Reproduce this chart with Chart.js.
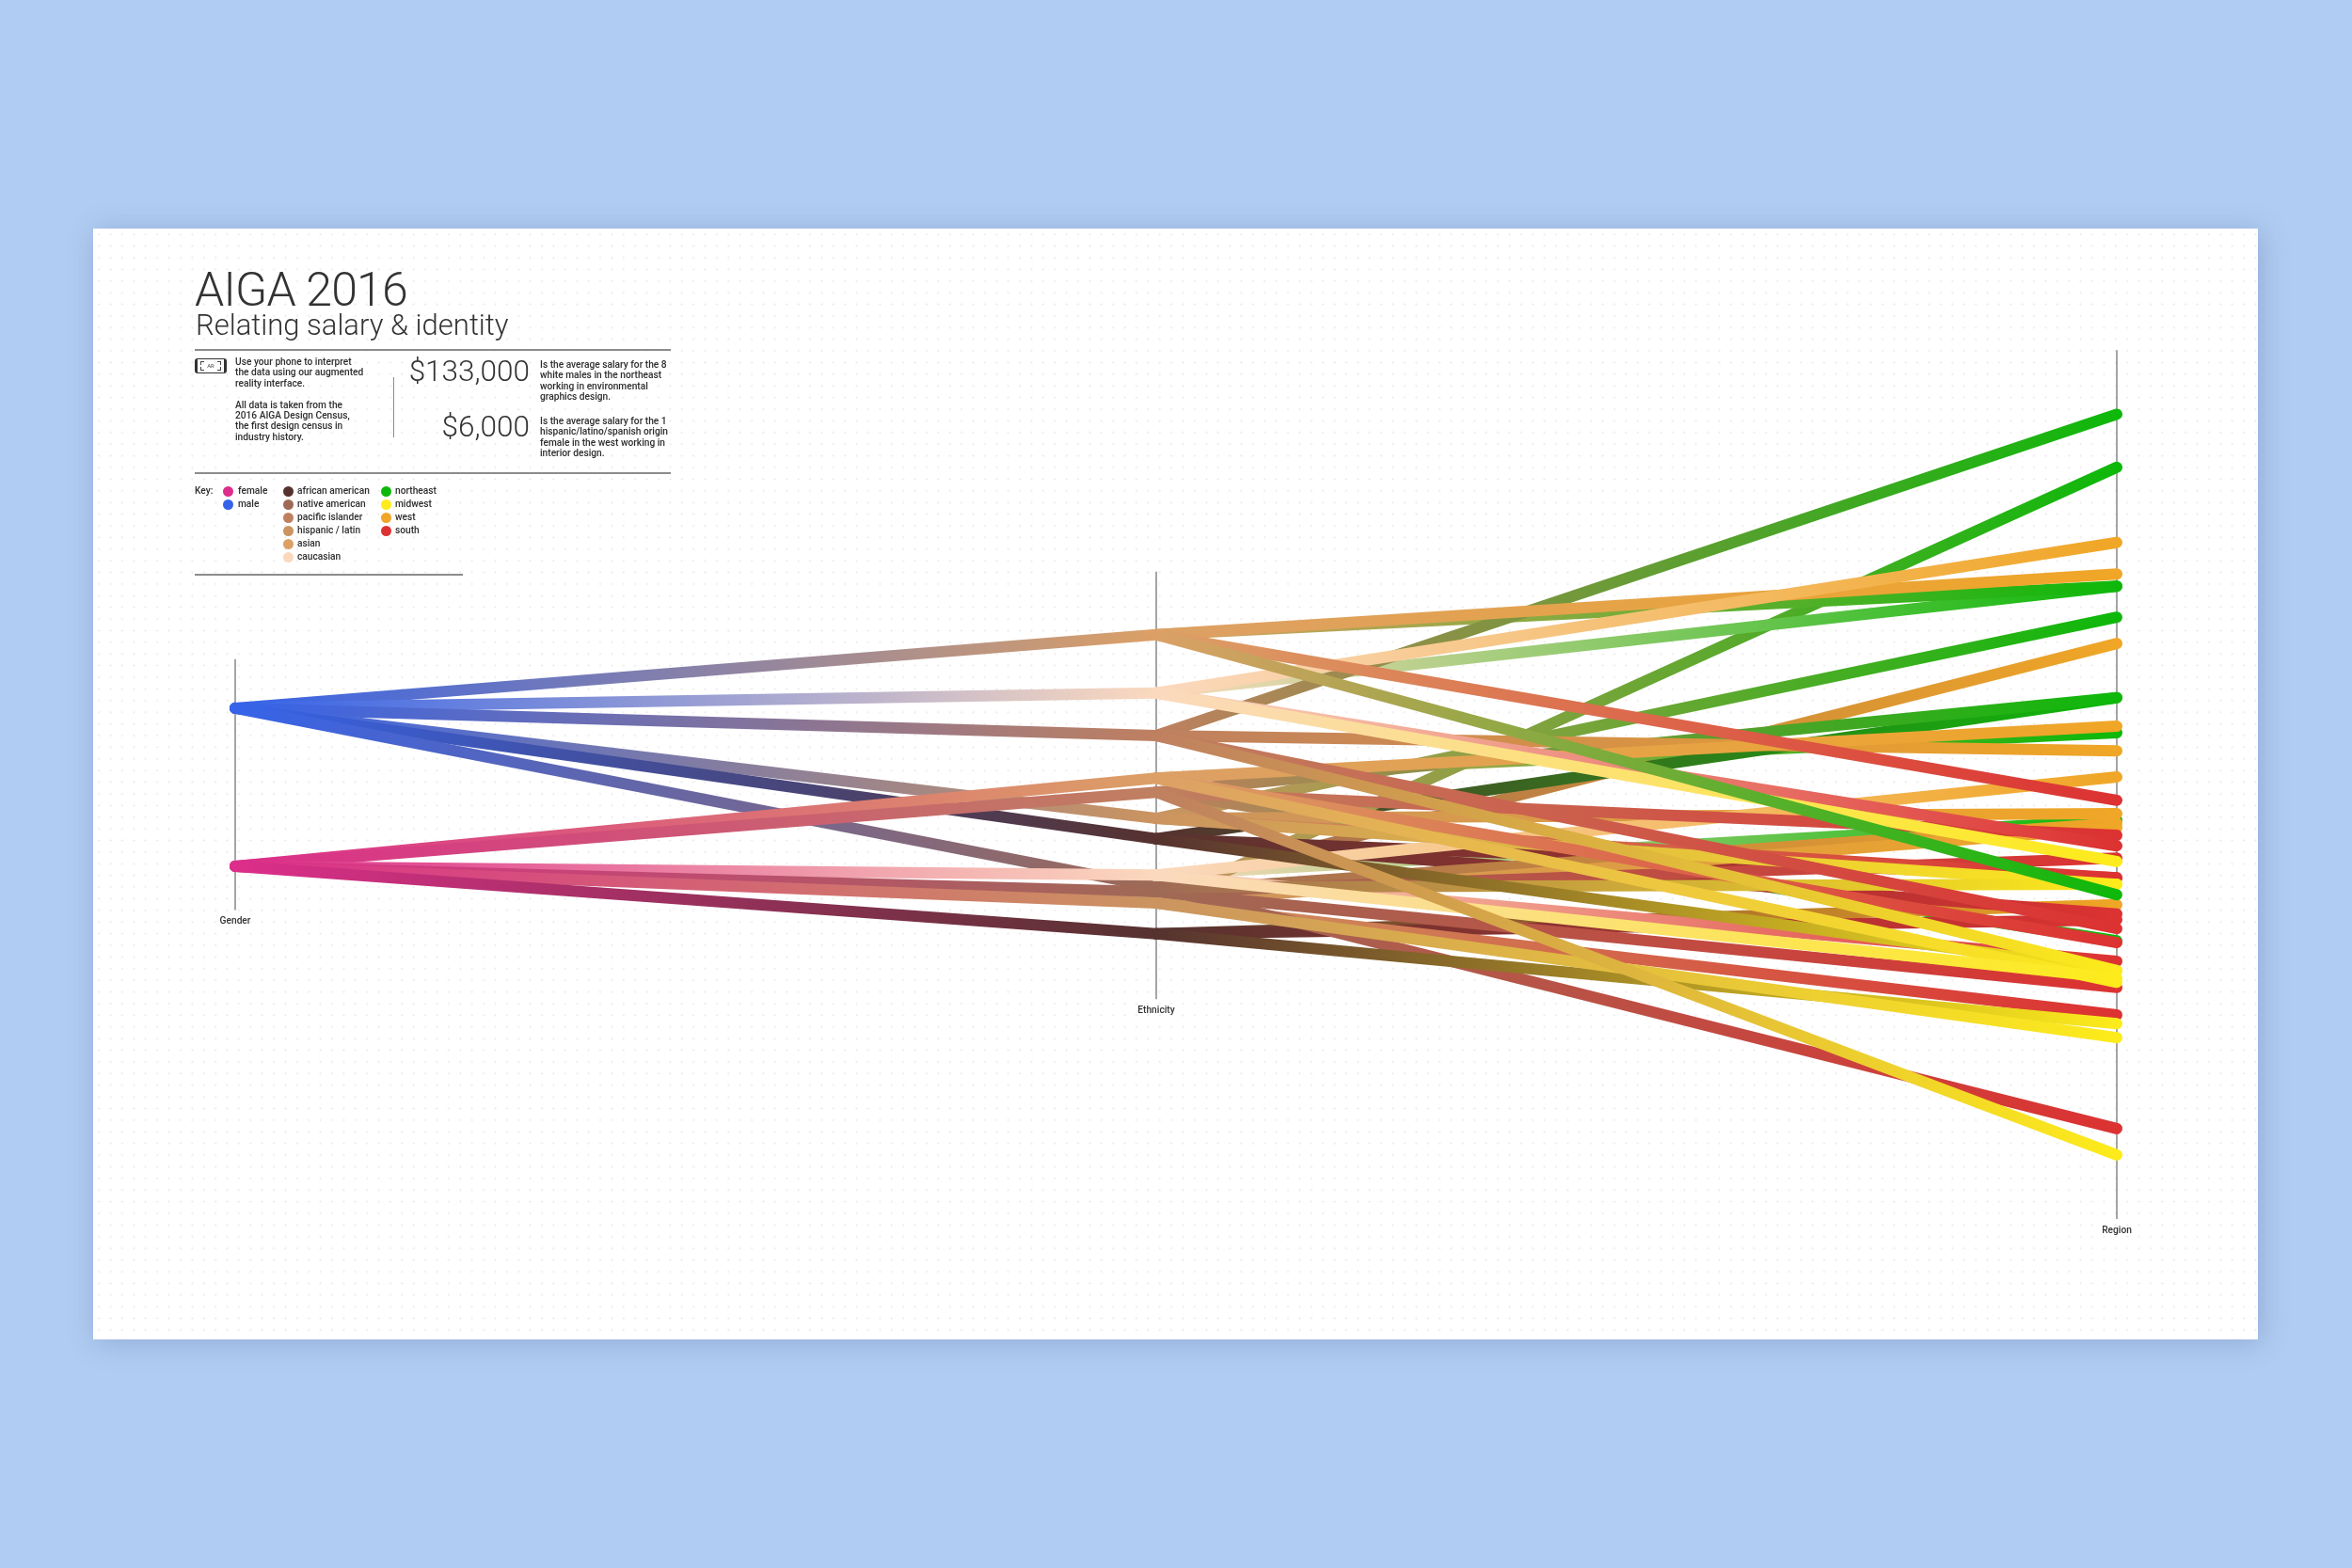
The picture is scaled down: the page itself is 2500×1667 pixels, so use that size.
<!DOCTYPE html>
<html>
<head>
<meta charset="utf-8">
<title>AIGA 2016</title>
<script src="https://cdn.jsdelivr.net/npm/chart.js@4"></script>
<style>
  html, body { margin: 0; padding: 0; width: 2500px; height: 1667px; overflow: hidden; background: #b0ccf2; }
  body { position: relative; font-family: Roboto, sans-serif; color: #333; }
  #card { position: absolute; left: 99px; top: 243px; width: 2301px; height: 1181px; background-color: #fff;
    background-image: radial-gradient(circle, #efefef 1px, transparent 1.3px); background-size: 12.4px 12.4px;
    box-shadow: 3px 3px 28px rgba(60,90,140,.28); }
  canvas { position: absolute; left: 0; top: 0; }
  .t { position: absolute; white-space: nowrap; }
  .small { font-size: 10.2px; font-weight: 500; line-height: 11.4px; color: #2e2e2e; }
  .big { font-size: 31.5px; font-weight: 300; line-height: 34px; text-align: right; width: 180px; left: 383px; }
  .rule { position: absolute; background: #8c8c8c; }
  .dot { position: absolute; width: 11px; height: 11px; border-radius: 50%; }
  .br { position: absolute; width: 3px; height: 3px; border: 0 solid #444; }
</style>
</head>
<body>
<div id="card"></div>
<canvas id="chart" width="2500" height="1667"></canvas>

<div class="t" style="left:207px;top:278px;font-size:50px;font-weight:300;line-height:60px;letter-spacing:-.8px">AIGA 2016</div>
<div class="t" style="left:208px;top:329px;font-size:31px;font-weight:300;line-height:34px">Relating salary &amp; identity</div>
<div class="rule" style="left:207px;top:371px;width:506px;height:1.5px"></div>
<div class="rule" style="left:207px;top:502px;width:506px;height:1.5px"></div>
<div class="rule" style="left:207px;top:610px;width:285px;height:1.5px"></div>
<div class="rule" style="left:418px;top:401px;width:1.2px;height:64px"></div>

<div style="position:absolute;left:207px;top:381px;width:28px;height:14px;border:solid #333;border-width:1px 3px;border-radius:3px;font-size:6px;line-height:14px;text-align:center;color:#444">AR
  <div class="br" style="left:3px;top:2px;border-width:1px 0 0 1px"></div>
  <div class="br" style="right:3px;top:2px;border-width:1px 1px 0 0"></div>
  <div class="br" style="left:3px;bottom:2px;border-width:0 0 1px 1px"></div>
  <div class="br" style="right:3px;bottom:2px;border-width:0 1px 1px 0"></div>
</div>
<div class="t small" style="left:250px;top:379px">Use your phone to interpret<br>the data using our augmented<br>reality interface.<br><br>All data is taken from the<br>2016 AIGA Design Census,<br>the first design census in<br>industry history.</div>
<div class="t big" style="top:378px">$133,000</div>
<div class="t big" style="top:437px">$6,000</div>
<div class="t small" style="left:574px;top:382px">Is the average salary for the 8<br>white males in the northeast<br>working in environmental<br>graphics design.</div>
<div class="t small" style="left:574px;top:442px">Is the average salary for the 1<br>hispanic/latino/spanish origin<br>female in the west working in<br>interior design.</div>
<div class="t small" style="left:207px;top:516px">Key:</div>
<div id="key"></div>

<script>
// axes
const axisNames = ["Gender", "Ethnicity", "Region"]
const axisX = [0, 48.95, 100]
const axisTop = [91, 106, 144]
const axisBottom = [48, 32.7, -5]

// salary in $ thousands at each axis
const genders = ["male", "female"]
const genderSalary = [82.6, 55.5]

const nodeGender = ["male", "male", "male", "female", "female", "male", "male", "female", "male", "female", "female", "female"]
const nodeEthnicity = ["asian", "caucasian", "pacific", "asian", "pacific", "hispanic", "african", "caucasian", "native", "native", "hispanic", "african"]
const nodeSalary = [95.2, 85.2, 77.9, 70.6, 68.2, 63.7, 60.2, 54.0, 51.9, 51.1, 49.2, 43.9]

// node index -> region, drawn in this order, last on top
const linkNode = [5, 8, 3, 7, 4, 6, 4, 10, 1, 0, 2,
  11, 11, 6, 6,
  9, 10, 5, 2, 3, 0, 1, 7,
  9, 5, 4, 9, 10, 8, 7, 0, 1,
  5, 8, 11, 6, 10, 3, 3, 2, 2, 7, 4, 1,
  0]
const linkRegion = ["northeast", "west", "northeast", "northeast", "northeast", "northeast", "northeast", "northeast", "northeast", "northeast", "northeast",
  "west", "south", "south", "south",
  "west", "west", "west", "west", "west", "west", "west", "west",
  "south", "south", "south", "south", "south", "south", "south", "south", "south",
  "midwest", "midwest", "midwest", "midwest", "midwest", "south", "midwest", "south", "midwest", "midwest", "midwest", "midwest",
  "northeast"]
const linkSalary = [98.2, 93.7, 78.4, 63.4, 42.7, 84.4, 84.4, 123.9, 103.5, 103.5, 133,
  48.9, 46.3, 53.5, 47.3,
  62.9, 62.1, 64.5, 75.3, 79.5, 105.6, 111.0, 70.8,
  56.9, 53.5, 60.8, 34.7, 30.0, 10.5, 39.2, 66.8, 59.0,
  52.4, 52.4, 28.5, 37.6, 26.1, 42.4, 35.6, 44.8, 37.6, 36.3, 6, 56.3,
  50.6]

// key
const keyNames = ["female", "male", "african american", "native american", "pacific islander", "hispanic / latin", "asian", "caucasian", "northeast", "midwest", "west", "south"]
const keyColumn = [0, 0, 1, 1, 1, 1, 1, 1, 2, 2, 2, 2]
const keyRow = [0, 1, 0, 1, 2, 3, 4, 5, 0, 1, 2, 3]
const keyColors = ["#dc2e8a", "#3563e9", "#56322f", "#9f6a55", "#bf8060", "#cb9460", "#dca066", "#fbd9be", "#0eb80a", "#fdeb1b", "#f0a626", "#dc3232"]

const colors = {
  male: "#3563e9", female: "#dc2e8a",
  african: "#56322f", native: "#9f6a55", pacific: "#bf8060", hispanic: "#cb9460", asian: "#dca066", caucasian: "#fbd9be",
  northeast: "#0eb80a", midwest: "#fdeb1b", west: "#f0a626", south: "#dc3232"
}

const keyBox = document.getElementById("key")
const keyDotX = [237, 300.5, 405]
const keyTextX = [253, 316, 420]
keyNames.forEach((name, i) => {
  const y = 522 + keyRow[i] * 14
  keyBox.insertAdjacentHTML("beforeend",
    `<div class="dot" style="left:${keyDotX[keyColumn[i]]}px;top:${y - 5.5}px;background:${keyColors[i]}"></div>` +
    `<div class="t small" style="left:${keyTextX[keyColumn[i]]}px;top:${y - 6}px">${name}</div>`)
})

function gradientLine(label, x0, y0, c0, x1, y1, c1) {
  return {
    label: label,
    data: [{x: x0, y: y0}, {x: x1, y: y1}],
    borderWidth: 12,
    borderCapStyle: "round",
    pointRadius: 0,
    pointHoverRadius: 0,
    tension: 0,
    fill: false,
    clip: false,
    borderColor: function(context) {
      const chart = context.chart
      if (!chart.chartArea) return c0
      const sx = chart.scales.x
      const g = chart.ctx.createLinearGradient(sx.getPixelForValue(x0), 0, sx.getPixelForValue(x1), 0)
      g.addColorStop(0, c0)
      g.addColorStop(1, c1)
      return g
    }
  }
}

const datasets = []
nodeSalary.forEach((salary, i) => {
  const g = genders.indexOf(nodeGender[i])
  datasets.push(gradientLine(nodeGender[i] + " " + nodeEthnicity[i], axisX[0], genderSalary[g], colors[nodeGender[i]], axisX[1], salary, colors[nodeEthnicity[i]]))
})
// male links first, so the female ones lie over them
datasets.sort((a, b) => (a.label.startsWith("male") ? 0 : 1) - (b.label.startsWith("male") ? 0 : 1))
linkNode.forEach((node, i) => {
  datasets.push(gradientLine(nodeEthnicity[node] + " " + linkRegion[i], axisX[1], nodeSalary[node], colors[nodeEthnicity[node]], axisX[2], linkSalary[i], colors[linkRegion[i]]))
})
// Chart.js paints the first dataset last
datasets.reverse()

const axisLines = {
  id: "axisLines",
  beforeDatasetsDraw(chart) {
    const {ctx, scales: {x, y}} = chart
    ctx.save()
    axisNames.forEach((name, i) => {
      const px = x.getPixelForValue(axisX[i])
      const bottom = y.getPixelForValue(axisBottom[i])
      ctx.strokeStyle = "#8f8f8f"
      ctx.lineWidth = 1.6
      ctx.beginPath()
      ctx.moveTo(px, y.getPixelForValue(axisTop[i]))
      ctx.lineTo(px, bottom)
      ctx.stroke()
      ctx.fillStyle = "#333"
      ctx.font = "500 10.2px Roboto"
      ctx.textAlign = "center"
      ctx.textBaseline = "middle"
      ctx.fillText(name, px, bottom + 12)
    })
    ctx.restore()
  }
}

new Chart(document.getElementById("chart"), {
  type: "line",
  data: {datasets: datasets},
  plugins: [axisLines],
  options: {
    responsive: false,
    animation: false,
    devicePixelRatio: 1,
    layout: {padding: {left: 250, right: 250, top: 372.2, bottom: 371}},
    plugins: {legend: {display: false}, tooltip: {enabled: false}},
    scales: {
      x: {type: "linear", min: 0, max: 100, display: false},
      y: {type: "linear", min: -5, max: 144, display: false}
    }
  }
})
</script>
</body>
</html>
